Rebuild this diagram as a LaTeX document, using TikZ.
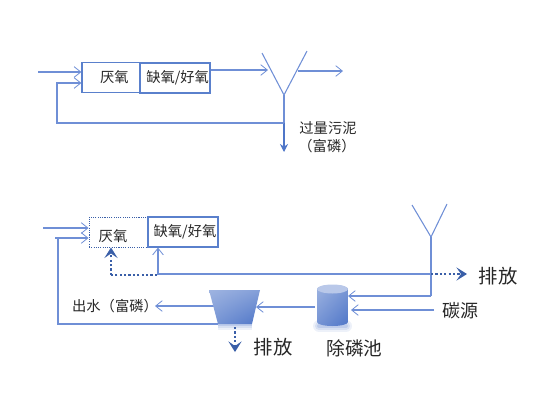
\documentclass[tikz,border=0pt]{standalone}
\usepackage{fontspec}
\setmainfont{Noto Sans CJK SC}
\usetikzlibrary{arrows.meta,calc,shadings}
\definecolor{ln}{HTML}{6F8FD6}
\definecolor{bx}{HTML}{5A80CC}
\definecolor{sh}{HTML}{4F76C8}
\definecolor{dk}{HTML}{3A5FA8}
\definecolor{txt}{HTML}{262626}
\tikzset{
  conn/.style={draw=ln,line width=0.8pt,-{Straight Barb[length=5pt,width=8pt,line width=0.6pt]}},
  plain/.style={draw=ln,line width=0.8pt},
  dots/.style={draw=dk,line width=1.8pt,dash pattern=on 1.6pt off 1.7pt},
  dotsarrow/.style={dots,-{Stealth[length=8pt,width=10pt,inset=3.5pt,line width=0pt]}},
  proc/.style={draw=bx,line width=0.9pt,inner sep=0pt,text=txt,font=\fontsize{10.7pt}{12pt}\selectfont},
  lab/.style={inner sep=0pt,text=txt,font=\fontsize{10.7pt}{12pt}\selectfont},
  biglab/.style={inner sep=0pt,text=txt,font=\fontsize{14pt}{16pt}\selectfont},
}
\begin{document}
\begin{tikzpicture}[x=0.75pt,y=-0.75pt]
\useasboundingbox (0,0) rectangle (557,404);
% ---------- top ----------
\node[proc,minimum width=43.5pt,minimum height=22pt] (a1) at (111,77.5) {\hspace{5pt}厌氧};
\node[proc,minimum width=52.5pt,minimum height=22.5pt] (a2) at (175,78) {\hspace{4pt}缺氧/好氧};
\coordinate (in1) at (38,72);
\coordinate (retTop) at (57,83);
\coordinate (retBot) at (57,123);
\coordinate (yL) at (262,53);
\coordinate (yR) at (307,51);
\coordinate (yA) at (284,95);
\coordinate (yIn) at (268,70);
\coordinate (yOutS) at (298,71);
\coordinate (yOutE) at (343,71);
\coordinate (sl) at (284,123);
\coordinate (slE) at (284,152);
\draw[conn] (in1) -- (in1 -| a1.west);
\draw[plain] (yL) -- (yA) -- (yR);
\draw[conn] (a2.east |- yIn) -- (yIn);
\draw[conn] (yOutS) -- (yOutE);
\draw[plain] (yA) -- (sl);
\draw[draw=sh,line width=0.8pt,-{Stealth[length=6pt,width=6pt]}] (sl) -- (slE);
\draw[conn] (sl) -- (retBot) -- (retTop) -- (retTop -| a1.west);
\node[lab] (t1) at (328,128) {过量污泥};
\node[lab] (t2) at (327,146) {（富磷）};
% ---------- bottom ----------
\node[draw=dk,line width=0.7pt,dash pattern=on 0.8pt off 0.9pt,inner sep=0pt,minimum width=44.25pt,minimum height=22.5pt] (b1) at (118.5,232) {};
\node[inner sep=0pt,text=txt,font=\fontsize{10.7pt}{12pt}\selectfont] (b1t) at (113,236) {厌氧};
\node[proc,minimum width=52.5pt,minimum height=22.5pt] (b2) at (183,232) {\hspace{3pt}缺氧/好氧};
\coordinate (bin) at (43,228);
\coordinate (brT) at (55,238);
\coordinate (brC) at (58,238);
\coordinate (brB) at (58,324);
\coordinate (tTL) at (209,290);
\coordinate (tTR) at (260,290);
\coordinate (tBR) at (252,324);
\coordinate (tBL) at (218,324);
\coordinate (zL) at (412,205);
\coordinate (zR) at (447,204);
\coordinate (zA) at (431,237);
\coordinate (zM) at (431,274);
\coordinate (zB) at (431,296);
\coordinate (mL) at (158,274);
\coordinate (dE) at (467,274);
\coordinate (dL) at (157,275);
\coordinate (dC) at (111,275);
\coordinate (pT) at (348,296);
\coordinate (cS) at (434,310);
\coordinate (cE) at (351,310);
\coordinate (oS) at (315,307);
\coordinate (oE) at (256,307);
\coordinate (wS) at (215,306);
\coordinate (wE) at (155,306);
\coordinate (dS) at (235,327);
\coordinate (dT) at (235,352);
% glow
\foreach \o/\w in {0.10/9,0.14/6,0.18/3}{
  \draw[sh,opacity=\o,line width=\w pt,line join=round] (tBL) -- (tBR);
  \draw[sh,opacity=\o,line width=\w pt,line cap=round] (319,326) -- (346,326);
}
% connectors behind the shapes
\draw[conn] (bin) -- (bin -| b1.west);
\draw[conn] (brT) -- (brT -| b1.west);
\draw[plain] (brC) -- (brB) -- (tBL);
\draw[plain] (zL) -- (zA) -- (zR);
\draw[plain] (zA) -- (zB);
\draw[conn] (zB) -- (pT);
\draw[conn] (zM) -- (mL) -- (mL |- b2.south);
\draw[dotsarrow] (zM) -- (dE);
\draw[dots] (dL) -- (dC);
\draw[dotsarrow] (dC) -- (dC |- b1.south);
\draw[dotsarrow] (dS) -- (dT);
\draw[conn] (cS) -- (cE);
\draw[conn] (oS) -- (oE);
\draw[conn] (wS) -- (wE);
% settler
\shade[upper left=white!45!sh,upper right=white!30!sh,lower left=white!25!sh,lower right=sh]
  (tTL) -- (tTR) -- (tBR) -- (tBL) -- cycle;
% pool
\shade[upper left=white!45!sh,upper right=white!25!sh,lower left=white!20!sh,lower right=sh]
  (317,289) -- (317,322) arc[start angle=180,end angle=360,x radius=15.5,y radius=-4] -- (348,289)
  arc[start angle=0,end angle=180,x radius=15.5,y radius=-4] -- cycle;
\fill[white!60!sh] (332.5,289) ellipse[x radius=15.5,y radius=4.5];
% texts
\node[lab] (out) at (115,306) {出水（富磷）};
\node[biglab,font=\fontsize{14.5pt}{16pt}\selectfont] (e1) at (498,276) {排放};
\node[biglab,font=\fontsize{14.5pt}{16pt}\selectfont] (e2) at (273,347) {排放};
\node[biglab] (pool) at (354.5,348) {除磷池};
\node[biglab,font=\fontsize{13.5pt}{15pt}\selectfont] (cs) at (460.5,311) {碳源};
\end{tikzpicture}
\end{document}
